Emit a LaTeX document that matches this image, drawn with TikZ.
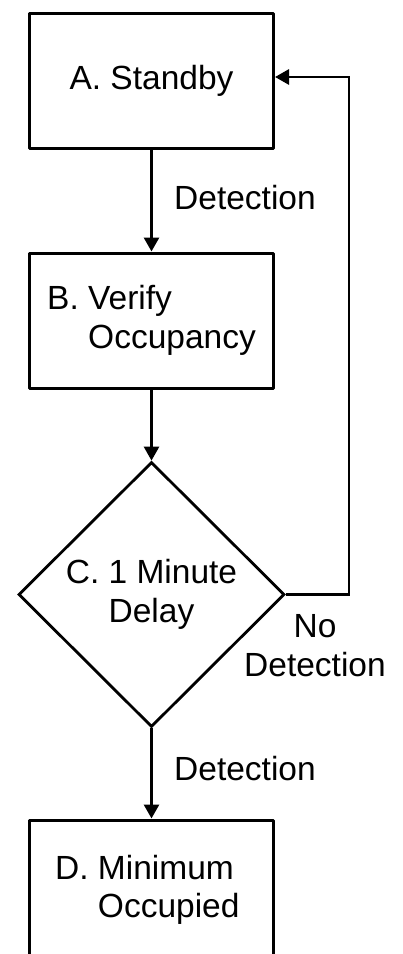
\documentclass[tikz,border=0pt]{standalone}
\usepackage{fontspec}
\setmainfont{Liberation Sans}
\usetikzlibrary{shapes.geometric,arrows.meta}
\begin{document}
\begin{tikzpicture}[x=1pt,y=-1pt,
  txt/.style={font=\fontsize{33.5}{38.5}\selectfont},
  box/.style={txt, draw, line width=3pt, line join=round, minimum width=244pt, minimum height=135pt, inner sep=0pt, align=left},
  dec/.style={txt, draw, diamond, line width=2.8pt, line join=miter, minimum width=266pt, minimum height=265pt, inner sep=0pt, align=center},
  lbl/.style={txt, inner sep=0pt, align=center},
  conn/.style={line width=2.8pt, -{Triangle[length=14pt,width=15pt]}}]
\useasboundingbox (0,0) rectangle (403,954);
\node[box] (A) at (151.5,80.5) {A. Standby};
\node[box] (B) at (151.5,320.5) {B. Verify\\\hphantom{B.\ }Occupancy};
\node[dec] (C) at (151.5,594.5) {C. 1 Minute\\Delay};
\node[box, minimum height=140pt] (D) at (151.5,890) {D. Minimum\hspace*{14pt}\\\hphantom{D.\ }Occupied};
\node[lbl, anchor=base] (l1) at (245,209) {Detection};
\node[lbl] (l2) at (315,645.5) {No\\Detection};
\node[lbl, anchor=base] (l3) at (245,780) {Detection};
\coordinate (fb) at (349,77);
\draw[conn] (A) -- (B);
\draw[conn] (B) -- (C);
\draw[conn] (C) -- (D);
\draw[conn, line join=miter] (C.east) -| (fb) -- (A.east |- fb);
\end{tikzpicture}
\end{document}
